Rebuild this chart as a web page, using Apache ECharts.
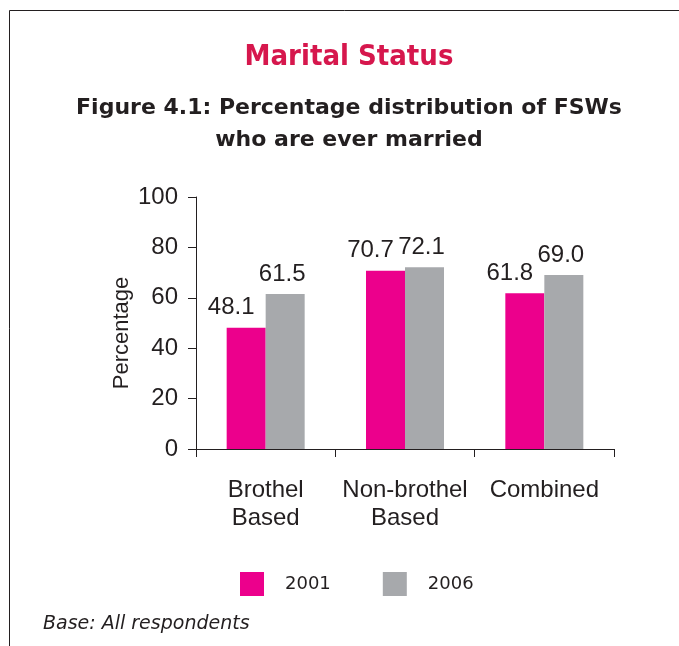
<!DOCTYPE html>
<html>
<head>
<meta charset="utf-8">
<script src="https://cdn.jsdelivr.net/npm/echarts@6/dist/echarts.min.js"></script>
<style>
  html, body { margin: 0; padding: 0; background: #fff; }
  #chart { width: 679px; height: 646px; }
</style>
</head>
<body>
<div id="chart"></div>
<script>
// data
const categories = ["Brothel\nBased", "Non-brothel\nBased", "Combined"];
const seriesNames = ["2001", "2006"];
const values2001 = [48.1, 70.7, 61.8];
const values2006 = [61.5, 72.1, 69.0];
const yTicks = [0, 20, 40, 60, 80, 100];

const TEXT = "#231f20";
const PINK = "#ec008c";
const GREY = "#a7a9ac";
const COND_FONT = "'DejaVu Sans Condensed', 'DejaVu Sans', sans-serif";
const HEAD_FONT = "'DejaVu Sans', sans-serif";
const AXIS_FONT = "'Liberation Sans', Arial, sans-serif";

const chart = echarts.init(document.getElementById("chart"));

const labelStyle = {
  show: true,
  position: "top",
  distance: 8,
  color: TEXT,
  fontFamily: AXIS_FONT,
  fontSize: 24,
  formatter: p => p.value.toFixed(1)
};

chart.setOption({
  animation: false,
  backgroundColor: "#fff",
  title: [
    {
      text: "Marital Status",
      left: 349,
      top: 43,
      padding: 0,
      textAlign: "center",
      textStyle: { color: "#d6174d", fontFamily: COND_FONT, fontWeight: "bold", fontSize: 29 }
    },
    {
      text: "Figure 4.1: Percentage distribution of FSWs\nwho are ever married",
      left: 349,
      top: 92,
      padding: 0,
      textAlign: "center",
      textStyle: { color: TEXT, fontFamily: HEAD_FONT, fontWeight: "bold", fontSize: 22, lineHeight: 32, align: "center" }
    },
    {
      text: "Base: All respondents",
      left: 38,
      top: 610,
      textStyle: { color: TEXT, fontFamily: HEAD_FONT, fontStyle: "italic", fontWeight: "normal", fontSize: 19 }
    }
  ],
  graphic: [
    { type: "line", shape: { x1: 9.5, y1: 10.5, x2: 679, y2: 10.5 }, style: { stroke: "#231f20", lineWidth: 1 } },
    { type: "line", shape: { x1: 9.5, y1: 10.5, x2: 9.5, y2: 646 }, style: { stroke: "#231f20", lineWidth: 1 } }
  ],
  legend: {
    data: seriesNames,
    left: 240,
    top: 572,
    padding: 0,
    icon: "rect",
    itemWidth: 24,
    itemHeight: 24,
    itemGap: 52,
    textStyle: { color: TEXT, fontFamily: HEAD_FONT, fontSize: 18, padding: [0, 0, 0, 16] }
  },
  grid: { left: 196, right: 65, top: 197, bottom: 197 },
  xAxis: {
    type: "category",
    data: categories,
    axisLine: { lineStyle: { color: TEXT, width: 1 } },
    axisTick: { show: true, length: 8, lineStyle: { color: TEXT } },
    axisLabel: { color: TEXT, fontFamily: AXIS_FONT, fontSize: 24, lineHeight: 28, margin: 27, interval: 0 }
  },
  yAxis: {
    type: "value",
    min: yTicks[0],
    max: yTicks[yTicks.length - 1],
    interval: yTicks[1] - yTicks[0],
    name: "Percentage",
    nameLocation: "middle",
    nameGap: 63,
    nameMoveOverlap: false,
    nameTextStyle: { color: TEXT, fontFamily: AXIS_FONT, fontSize: 22, padding: [0, 20, 0, 0] },
    axisLine: { show: true, lineStyle: { color: TEXT, width: 1 } },
    axisTick: { show: true, length: 8, lineStyle: { color: TEXT } },
    axisLabel: { color: TEXT, fontFamily: AXIS_FONT, fontSize: 24, margin: 18 },
    splitLine: { show: false }
  },
  series: [
    {
      name: seriesNames[0],
      type: "bar",
      data: values2001,
      barWidth: 39,
      barGap: "0%",
      itemStyle: { color: PINK },
      label: Object.assign({}, labelStyle, { offset: [-15, 0] })
    },
    {
      name: seriesNames[1],
      type: "bar",
      data: values2006,
      barWidth: 39,
      barGap: "0%",
      itemStyle: { color: GREY },
      label: Object.assign({}, labelStyle, { offset: [-3, 0] })
    }
  ]
});
</script>
</body>
</html>
